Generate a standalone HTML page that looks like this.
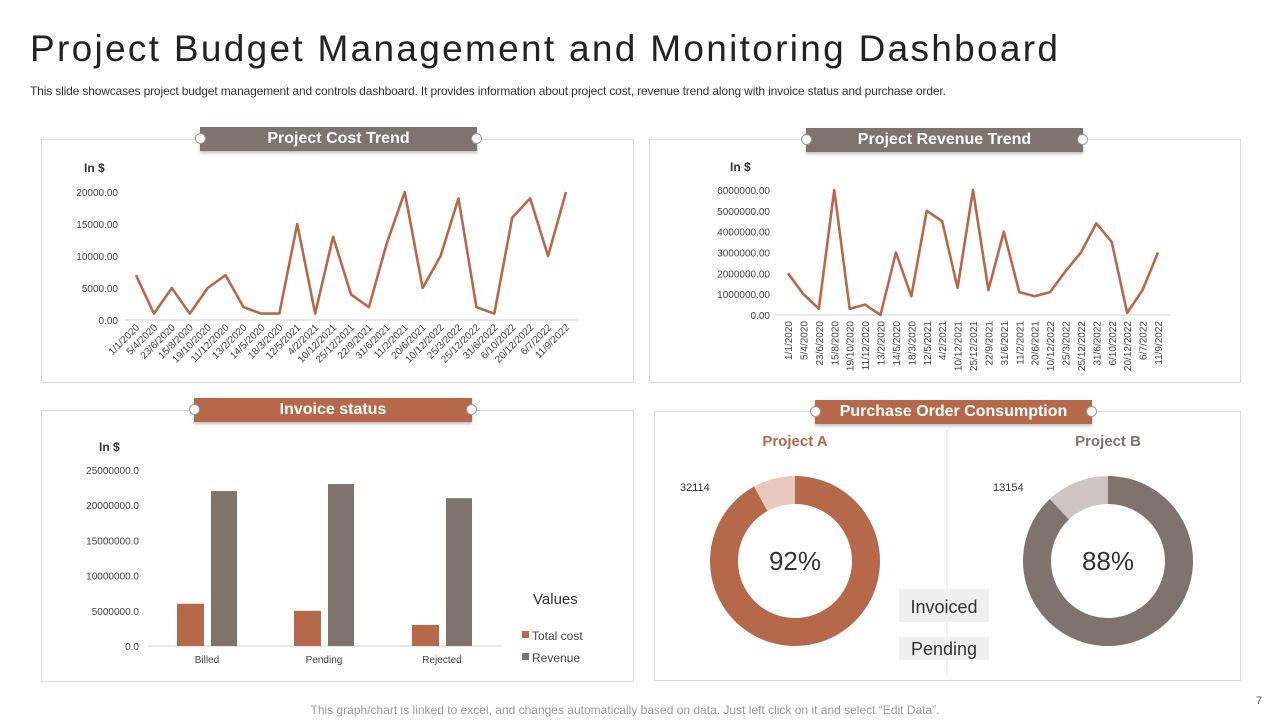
<!DOCTYPE html>
<html><head><meta charset="utf-8">
<style>
body{margin:0;width:1280px;height:720px;background:#fff;font-family:"Liberation Sans",sans-serif;overflow:hidden;position:relative}
.abs{position:absolute}
.panel{position:absolute;border:1px solid #d9d9d9;background:#fff}
.hdr{position:absolute;color:#fff;font-weight:bold;font-size:16px;text-align:center;line-height:24px;box-shadow:0 2px 3px rgba(0,0,0,.25)}
.dot{position:absolute;width:9px;height:9px;border-radius:50%;background:#fff;border:1px solid #999;top:6px}
</style></head><body>
<div class="abs" style="left:30px;top:28px;font-size:37px;color:#222;letter-spacing:2.3px;white-space:nowrap">Project Budget Management and Monitoring Dashboard</div>
<div class="abs" style="left:30px;top:84px;font-size:12px;letter-spacing:-0.15px;color:#333;white-space:nowrap">This slide showcases project budget management and controls dashboard. It provides information about project cost, revenue trend along with invoice status and purchase order.</div>

<div class="panel" style="left:41px;top:139px;width:591px;height:242px"></div>
<div class="panel" style="left:649px;top:139px;width:590px;height:242px"></div>
<div class="panel" style="left:41px;top:410px;width:591px;height:270px"></div>
<div class="panel" style="left:654px;top:411px;width:585px;height:268px"></div>

<div class="hdr" style="left:200px;top:127px;width:277px;background:#7f736e">Project Cost Trend<div class="dot" style="left:-5px"></div><div class="dot" style="right:-5px"></div></div>
<div class="hdr" style="left:806px;top:128px;width:277px;background:#7f736e">Project Revenue Trend<div class="dot" style="left:-5px"></div><div class="dot" style="right:-5px"></div></div>
<div class="hdr" style="left:194px;top:398px;width:278px;background:#b5694a">Invoice status<div class="dot" style="left:-5px"></div><div class="dot" style="right:-5px"></div></div>
<div class="hdr" style="left:815px;top:400px;width:277px;background:#b5694a">Purchase Order Consumption<div class="dot" style="left:-5px"></div><div class="dot" style="right:-5px"></div></div>

<svg id="chart" class="abs" style="left:0;top:0" width="1280" height="720"></svg>

<div class="abs" style="left:0;width:1250px;text-align:center;top:703px;font-size:12px;color:#999">This graph/chart is linked to excel, and changes automatically based on data. Just left click on it and select “Edit Data”.</div>
<div class="abs" style="left:1256px;top:695px;font-size:11px;color:#555">7</div>

<script>
const costDates=["1/1/2020","5/4/2020","23/6/2020","15/8/2020","19/10/2020","11/12/2020","13/2/2020","14/5/2020","18/3/2020","12/5/2021","4/2/2021","10/12/2021","25/12/2021","22/9/2021","31/6/2021","11/2/2021","20/6/2021","10/12/2022","25/3/2022","25/12/2022","31/6/2022","6/10/2022","20/12/2022","6/7/2022","11/9/2022"];
const costValues=[7000,1000,5000,1000,5000,7000,2000,1000,1000,15000,1000,13000,4000,2000,12000,20000,5000,10000,19000,2000,1000,16000,19000,10000,20000];
const costTicks=[0,5000,10000,15000,20000];
const revDates=costDates;
const revValues=[2000000,1000000,300000,6000000,300000,500000,0,3000000,900000,5000000,4500000,1300000,6000000,1200000,4000000,1100000,900000,1100000,2100000,3000000,4400000,3500000,100000,1200000,3000000];
const revTicks=[0,1000000,2000000,3000000,4000000,5000000,6000000];
const invCats=["Billed","Pending","Rejected"];
const invCost=[6000000,5000000,3000000];
const invRevenue=[22000000,23000000,21000000];
const invTicks=[0,5000000,10000000,15000000,20000000,25000000];
const poProjects=["Project A","Project B"];
const poInvoicedPct=[92,88];
const poPendingValue=[32114,13154];

const svg=document.getElementById('chart');
const NS='http://www.w3.org/2000/svg';
function mk(tag,attrs,parent){const e=document.createElementNS(NS,tag);for(const k in attrs)e.setAttribute(k,attrs[k]);(parent||svg).appendChild(e);return e;}
function txt(s,attrs){const e=mk('text',attrs);e.textContent=s;return e;}

function lineChart(name,dates,vals,ticks,x0,x1,ax0,ax1,yTop,yBot,rot,labelX){
  const max=ticks[ticks.length-1];
  const xs=i=>x0+(x1-x0)*i/(dates.length-1);
  const ys=v=>yBot-(yBot-yTop)*v/max;
  const ax=mk('line',{x1:ax0,x2:ax1,y1:yBot,y2:yBot,stroke:'#d0d0d0','stroke-width':1});
  
  ticks.forEach(t=>{const e=txt(t.toFixed(2),{x:labelX,y:ys(t)+4,'text-anchor':'end','font-size':10,fill:'#444'});
    });
  dates.forEach((d,i)=>{const x=xs(i);let e;
    if(rot===-45){e=txt(d,{x:x+4,y:yBot+8,'text-anchor':'end','font-size':10,fill:'#444',transform:`rotate(-45 ${x+4} ${yBot+8})`});}
    else{e=txt(d,{x:x+4,y:yBot+6,'text-anchor':'end','font-size':10,fill:'#444',transform:`rotate(-90 ${x+4} ${yBot+6})`});}
    });
  const p=mk('polyline',{points:vals.map((v,i)=>xs(i)+','+ys(v)).join(' '),fill:'none',stroke:'#b5694a','stroke-width':2.6,'stroke-linejoin':'round'});
  
}
lineChart('cost',costDates,costValues,costTicks,136,566,125,578,192,320,-45,118);
let e=txt('In $',{x:84,y:172,'font-size':12,'font-weight':'bold',fill:'#333'});

lineChart('revenue',revDates,revValues,revTicks,788,1158,775,1170,190,315,-90,770);
e=txt('In $',{x:730,y:171,'font-size':12,'font-weight':'bold',fill:'#333'});


(function(){
  const max=invTicks[invTicks.length-1],yTop=470,yBot=646;
  const ys=v=>yBot-(yBot-yTop)*v/max;
  const centers=[207,324,442],bw=26;
  const ax=mk('line',{x1:148,x2:502,y1:yBot,y2:yBot,stroke:'#d0d0d0'});
  
  invTicks.forEach(t=>{const e=txt(t.toFixed(1),{x:139,y:ys(t)+4,'text-anchor':'end','font-size':10,fill:'#444'});
    });
  invCats.forEach((c,i)=>{const cx=centers[i];
    const b1=mk('rect',{x:cx-30,y:ys(invCost[i]),width:bw+1,height:yBot-ys(invCost[i]),fill:'#b5694a'});
    
    const b2=mk('rect',{x:cx+4,y:ys(invRevenue[i]),width:bw,height:yBot-ys(invRevenue[i]),fill:'#7f736e'});
    
    const l=txt(c,{x:cx,y:663,'text-anchor':'middle','font-size':10,fill:'#444'});
    });
  let t=txt('In $',{x:99,y:451,'font-size':12,'font-weight':'bold',fill:'#333'});
  
  t=txt('Values',{x:533,y:604,'font-size':15,fill:'#333'});
  
  [['Total cost','#b5694a',640],['Revenue','#7f736e',662]].forEach(([n,c,y])=>{
    const g=mk('g',{});
    mk('rect',{x:522,y:y-9,width:7,height:7,fill:c},g);
    const tt=mk('text',{x:532,y:y,'font-size':12,fill:'#444'},g);tt.textContent=n;});
})();

(function(){
  const centers=[[795,561],[1108,561]],R=85,r=57;
  const main=['#b5694a','#7f736e'],light=['#e8c9bc','#cfc6c4'],titleC=['#b5694a','#7f736e'];
  const div=mk('line',{x1:947,x2:947,y1:430,y2:676,stroke:'#e6e6e6'});
  
  function arc(cx,cy,a0,a1){const rad=a=>(a-90)*Math.PI/180;
    const P=(rr,a)=>[cx+rr*Math.cos(rad(a)),cy+rr*Math.sin(rad(a))];
    const large=(a1-a0)>180?1:0;const [x1,y1]=P(R,a0),[x2,y2]=P(R,a1),[x3,y3]=P(r,a1),[x4,y4]=P(r,a0);
    return `M${x1},${y1} A${R},${R} 0 ${large} 1 ${x2},${y2} L${x3},${y3} A${r},${r} 0 ${large} 0 ${x4},${y4} Z`;}
  poProjects.forEach((p,i)=>{const [cx,cy]=centers[i];const a=poInvoicedPct[i]*3.6;
    const s1=mk('path',{d:arc(cx,cy,0,a),fill:main[i]});
    
    const s2=mk('path',{d:arc(cx,cy,a,360),fill:light[i]});
    
    let t=txt(poInvoicedPct[i]+'%',{x:cx,y:cy+9,'text-anchor':'middle','font-size':26,fill:'#333'});
    
    t=txt(p,{x:cx,y:446,'text-anchor':'middle','font-size':15,'font-weight':'bold',fill:titleC[i]});
    
    t=txt(String(poPendingValue[i]),{x:cx-115,y:491,'font-size':11,fill:'#333'});
    
  });
  [['Invoiced',589,605],['Pending',637,647]].forEach(([n,y,ty])=>{
    const g=mk('g',{});
    mk('rect',{x:899,y:y,width:90,height:n==='Invoiced'?33:23,fill:'#efefef'},g);
    const tt=mk('text',{x:944,y:ty+8,'text-anchor':'middle','font-size':18,fill:'#333'},g);tt.textContent=n;});
})();
</script>
</body></html>
